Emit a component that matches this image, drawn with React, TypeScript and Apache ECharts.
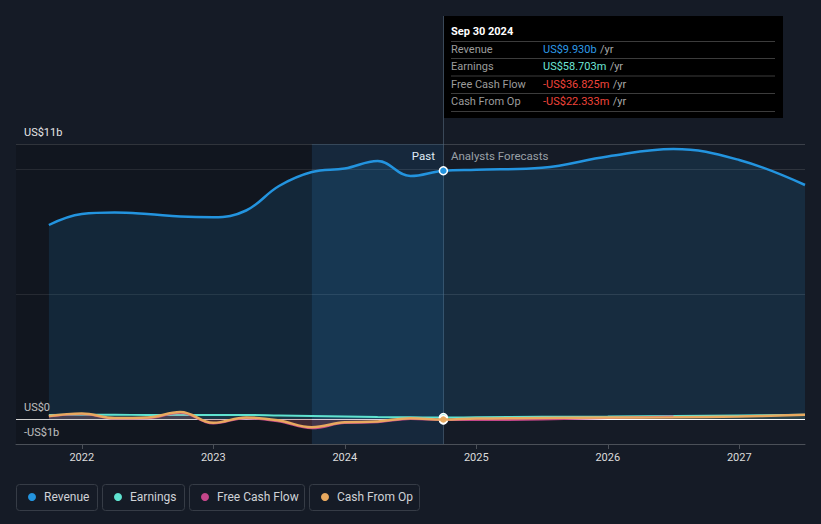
import React, { useEffect, useRef } from "react";
import * as echarts from "echarts";

// ---- data (decimal years, values in US$ billions) ----
const yearTicks = [2022, 2023, 2024, 2025, 2026, 2027];

const pastDates = [2021.75, 2022.0, 2022.25, 2022.5, 2022.75, 2023.0, 2023.25, 2023.5, 2023.75, 2024.0, 2024.25, 2024.5, 2024.75];
const forecastDates = [2025.0, 2025.5, 2026.0, 2026.5, 2027.0, 2027.5];

const revenuePast = [7.76, 8.2, 8.26, 8.2, 8.1, 8.07, 8.34, 9.32, 9.88, 10.02, 10.32, 9.72, 9.93];
const revenueForecast = [9.97, 10.05, 10.5, 10.8, 10.36, 9.36];

const earningsPast = [0.16, 0.17, 0.17, 0.16, 0.16, 0.16, 0.16, 0.14, 0.12, 0.1, 0.08, 0.07, 0.059];
const earningsForecast = [0.07, 0.09, 0.1, 0.12, 0.14, 0.17];

const fcfPast = [0.1, 0.2, 0.02, 0.03, 0.25, -0.18, 0.03, -0.1, -0.37, -0.16, -0.13, 0.0, -0.037];
const fcfForecastDates = [2025.0, 2025.5, 2026.0, 2026.5];
const fcfForecast = [-0.04, -0.02, 0.04, 0.1];

const cfoPast = [0.12, 0.22, 0.04, 0.06, 0.28, -0.15, 0.06, -0.06, -0.33, -0.13, -0.1, 0.03, -0.022];
const cfoForecast = [0.02, 0.04, 0.06, 0.07, 0.1, 0.17];

const yLabelValues = [-1, 0, 11];
const yLabelTexts = ["-US$1b", "US$0", "US$11b"];

const pastStart = 2021.5;
const highlightStart = 2023.75;
const splitDate = 2024.75;
const axisMax = 2027.5;

const seriesNames = ["Revenue", "Earnings", "Free Cash Flow", "Cash From Op"];
const seriesColors = ["#2394df", "#5fe3d0", "#c4468a", "#e8a95f"];

const tooltipTitle = "Sep 30 2024";
const tooltipValues = ["US$9.930b", "US$58.703m", "-US$36.825m", "-US$22.333m"];
const tooltipValueColors = ["#2d9be8", "#6ee7d7", "#f0443a", "#f0443a"];

const FONT = "Roboto, 'Noto Sans', sans-serif";

function zip(xs: number[], ys: number[]) {
  return ys.map((y, i) => [xs[i], y]);
}

export default function App() {
  const ref = useRef<HTMLDivElement>(null);

  useEffect(() => {
    document.body.style.margin = "0";
    document.body.style.background = "#151b26";
    const chart = echarts.init(ref.current!, null, { renderer: "svg" });

    const revenueData = zip(pastDates, revenuePast).concat(zip(forecastDates, revenueForecast));
    const earningsData = zip(pastDates, earningsPast).concat(zip(forecastDates, earningsForecast));
    const fcfData = zip(pastDates, fcfPast).concat(zip(fcfForecastDates, fcfForecast));
    const cfoData = zip(pastDates, cfoPast).concat(zip(forecastDates, cfoForecast));

    const lastIdx = pastDates.length - 1;
    const dot = (color: string, y: number) => ({
      silent: true,
      symbol: "circle",
      symbolSize: 8,
      label: { show: false },
      itemStyle: { color, borderColor: "#ffffff", borderWidth: 1.5 },
      data: [{ coord: [splitDate, y] }],
    });

    const splitColors = [
      "#3b4049", "#ffffff",
      "transparent", "transparent", "transparent", "transparent",
      "#2f343d",
      "transparent", "transparent", "transparent", "transparent",
      "#2f343d", "#3b4049",
    ];

    // legend
    const legendBoxes = [
      { x: 16, w: 81 },
      { x: 102, w: 82 },
      { x: 189, w: 115 },
      { x: 309, w: 110 },
    ];
    const legendGraphics: any[] = [];
    seriesNames.forEach((name, i) => {
      const b = legendBoxes[i];
      legendGraphics.push({
        type: "rect",
        shape: { x: b.x + 0.5, y: 484.5, width: b.w, height: 26, r: 3 },
        style: { fill: "transparent", stroke: "#363c46", lineWidth: 1 },
        silent: true,
      });
      legendGraphics.push({
        type: "circle",
        shape: { cx: b.x + 16, cy: 497, r: 4 },
        style: { fill: seriesColors[i] },
        silent: true,
      });
      legendGraphics.push({
        type: "text",
        x: b.x + 28,
        y: 497,
        style: { text: name, fill: "#cfd2d6", font: `12px ${FONT}`, verticalAlign: "middle", align: "left" },
        silent: true,
      });
    });

    // tooltip box
    const rowY = [49, 66.5, 84, 101.5];
    const sepY = [41.5, 58.5, 76, 93.5, 111.5];
    const tooltipGraphics: any[] = [
      {
        type: "rect",
        shape: { x: 444, y: 16, width: 339, height: 102 },
        style: { fill: "#000000" },
        silent: true,
      },
      {
        type: "text",
        x: 451,
        y: 31,
        style: { text: tooltipTitle, fill: "#ffffff", font: `bold 11px ${FONT}`, verticalAlign: "middle" },
        silent: true,
      },
    ];
    sepY.forEach((y) =>
      tooltipGraphics.push({
        type: "line",
        shape: { x1: 451, y1: y, x2: 775, y2: y },
        style: { stroke: "#3c3c3c", lineWidth: 1 },
        silent: true,
      })
    );
    seriesNames.forEach((name, i) => {
      tooltipGraphics.push({
        type: "text",
        x: 451,
        y: rowY[i],
        style: { text: name, fill: "#9c9c9c", font: `11px ${FONT}`, verticalAlign: "middle" },
        silent: true,
      });
      tooltipGraphics.push({
        type: "text",
        x: 543,
        y: rowY[i],
        style: {
          text: `{v|${tooltipValues[i]}} {u|/yr}`,
          verticalAlign: "middle",
          rich: {
            v: { fill: tooltipValueColors[i], font: `11px ${FONT}` },
            u: { fill: "#a8a8a8", font: `11px ${FONT}` },
          },
        },
        silent: true,
      });
    });

    chart.setOption({
      animation: false,
      backgroundColor: "#151b26",
      grid: { left: 16, right: 16, top: 144, bottom: 80, containLabel: false },
      xAxis: {
        type: "value",
        min: pastStart,
        max: axisMax,
        axisLine: { show: true, onZero: false, lineStyle: { color: "#4b5058", width: 1 } },
        axisTick: { show: true, customValues: yearTicks, length: 5, lineStyle: { color: "#4b5058" } },
        axisLabel: {
          customValues: yearTicks,
          formatter: (v: number) => String(Math.round(v)),
          color: "#dcdcdc",
          fontSize: 11,
          fontFamily: FONT,
          margin: 8,
        },
        splitLine: { show: false },
      },
      yAxis: {
        type: "value",
        min: -1,
        max: 11,
        interval: 1,
        axisLine: { show: false },
        axisTick: { show: false },
        axisLabel: {
          inside: true,
          margin: 8,
          verticalAlign: "bottom",
          padding: [0, 0, 6, 0],
          color: "#e6e6e6",
          fontSize: 11,
          fontFamily: FONT,
          formatter: (v: number) => {
            const idx = yLabelValues.indexOf(Math.round(v));
            return idx >= 0 ? yLabelTexts[idx] : "";
          },
        },
        splitLine: { show: true, lineStyle: { color: splitColors, width: 1 } },
      },
      series: [
        {
          name: seriesNames[0],
          type: "line",
          data: revenueData,
          smooth: 0.4,
          showSymbol: false,
          lineStyle: { color: seriesColors[0], width: 2.5 },
          itemStyle: { color: seriesColors[0] },
          areaStyle: { color: "rgba(35,148,223,0.2)" },
          z: 2,
          markArea: {
            silent: true,
            data: [
              [{ xAxis: pastStart, itemStyle: { color: "rgba(0,0,0,0.18)" } }, { xAxis: highlightStart }],
              [{ xAxis: highlightStart, itemStyle: { color: "rgba(30,120,200,0.14)" } }, { xAxis: splitDate }],
            ],
          },
          markPoint: dot(seriesColors[0], revenuePast[lastIdx]),
        },
        {
          name: seriesNames[1],
          type: "line",
          data: earningsData,
          smooth: 0.4,
          showSymbol: false,
          lineStyle: { color: seriesColors[1], width: 2 },
          itemStyle: { color: seriesColors[1] },
          areaStyle: { color: "rgba(95,227,208,0.12)" },
          z: 3,
          markPoint: dot(seriesColors[1], earningsPast[lastIdx]),
        },
        {
          name: seriesNames[2],
          type: "line",
          data: fcfData,
          smooth: 0.4,
          showSymbol: false,
          lineStyle: { color: seriesColors[2], width: 2 },
          itemStyle: { color: seriesColors[2] },
          areaStyle: { color: "rgba(196,70,138,0.25)" },
          z: 4,
          markPoint: dot(seriesColors[2], fcfPast[lastIdx]),
        },
        {
          name: seriesNames[3],
          type: "line",
          data: cfoData,
          smooth: 0.4,
          showSymbol: false,
          lineStyle: { color: seriesColors[3], width: 2.5 },
          itemStyle: { color: seriesColors[3] },
          areaStyle: { color: "rgba(232,169,95,0.12)" },
          z: 5,
          markPoint: dot(seriesColors[3], cfoPast[lastIdx]),
        },
      ],
      graphic: [
        {
          type: "line",
          shape: { x1: 443.5, y1: 16, x2: 443.5, y2: 444 },
          style: { stroke: "rgba(90,110,130,0.55)", lineWidth: 1 },
          silent: true,
          z: 1,
        },
        {
          type: "text",
          x: 435,
          y: 156,
          style: { text: "Past", fill: "#ffffff", font: `11.5px ${FONT}`, align: "right", verticalAlign: "middle" },
          silent: true,
        },
        {
          type: "text",
          x: 451,
          y: 156,
          style: { text: "Analysts Forecasts", fill: "#9aa0a6", font: `11.5px ${FONT}`, align: "left", verticalAlign: "middle" },
          silent: true,
        },
        ...tooltipGraphics,
        ...legendGraphics,
      ],
    });

    return () => chart.dispose();
  }, []);

  return (
    <div
      ref={ref}
      style={{ position: "absolute", left: 0, top: 0, width: 821, height: 524, background: "#151b26" }}
    />
  );
}
